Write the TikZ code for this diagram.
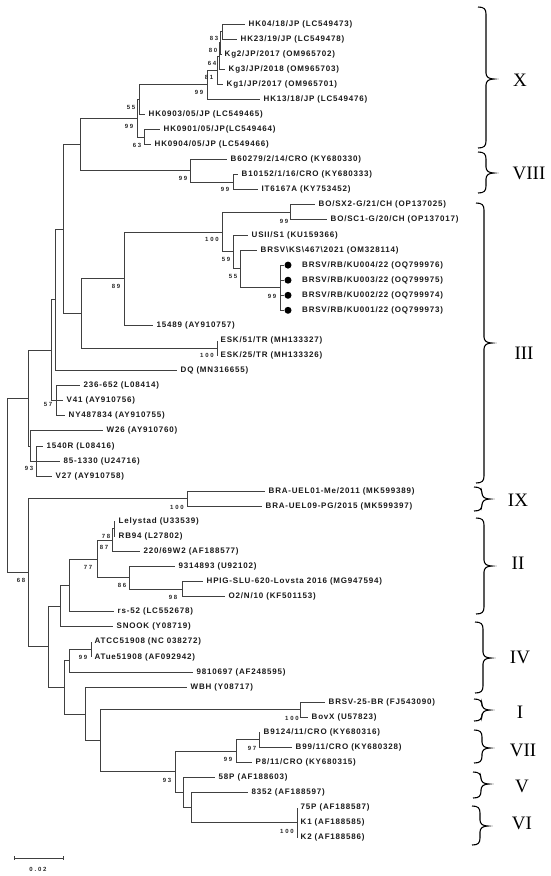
\documentclass[tikz,border=0pt]{standalone}
\usepackage{fontspec}
\newfontfamily\labfont{Liberation Sans}[LetterSpace=10]
\newfontfamily\bootfam{Liberation Sans}[LetterSpace=30]
\newfontfamily\cladefont{Liberation Serif}
\newcommand{\cladebrace}[4]{%
  \draw[bracestyle] (#1-8,#2) .. controls (#1-2,#2) and (#1,#2+2) .. (#1,#2+7)
    -- (#1,#3-6) .. controls (#1,#3-2) and (#1+3,#3) .. (#1+8,#3)
    .. controls (#1+3,#3) and (#1,#3+2) .. (#1,#3+6)
    -- (#1,#4-7) .. controls (#1,#4-2) and (#1-2,#4) .. (#1-8,#4);}
\begin{document}
\begin{tikzpicture}[x=1pt,y=-1pt,
  br/.style={draw=black!75, line width=0.9pt},
  leaf/.style={anchor=west, inner xsep=3.5pt, inner ysep=0.5pt, text=black!90,
    font=\labfont\bfseries\fontsize{8}{9}\selectfont},
  boot/.style={inner sep=0pt, text=black!85, font=\bootfam\bfseries\fontsize{6}{7}\selectfont},
  dotmark/.style={circle, fill=black, inner sep=0pt, minimum size=7pt},
  bracestyle/.style={draw=black, line width=1.1pt},
  clade/.style={inner sep=0pt, font=\cladefont\fontsize{19}{21}\selectfont}]
\useasboundingbox (0,0) rectangle (550,876);
% ---------- leaves ----------
\node[leaf] (L1) at (245,24.0) {HK04/18/JP (LC549473)};
\node[leaf] (L2) at (237,39.1) {HK23/19/JP (LC549478)};
\node[leaf] (L3) at (221,54.1) {Kg2/JP/2017 (OM965702)};
\node[leaf] (L4) at (225,69.2) {Kg3/JP/2018 (OM965703)};
\node[leaf] (L5) at (223,84.3) {Kg1/JP/2017 (OM965701)};
\node[leaf] (L6) at (260,99.4) {HK13/18/JP (LC549476)};
\node[leaf] (L7) at (145,114.4) {HK0903/05/JP (LC549465)};
\node[leaf] (L8) at (160,129.5) {HK0901/05/JP(LC549464)};
\node[leaf] (L9) at (151,144.6) {HK0904/05/JP (LC549466)};
\node[leaf] (L10) at (227,159.6) {B60279/2/14/CRO (KY680330)};
\node[leaf] (L11) at (238,174.7) {B10152/1/16/CRO (KY680333)};
\node[leaf] (L12) at (258,189.8) {IT6167A (KY753452)};
\node[leaf] (L13) at (315,204.9) {BO/SX2-G/21/CH (OP137025)};
\node[leaf] (L14) at (327,219.9) {BO/SC1-G/20/CH (OP137017)};
\node[leaf] (L15) at (248,235.0) {USII/S1 (KU159366)};
\node[leaf] (L16) at (257,250.0) {BRSV\textbackslash KS\textbackslash 467\textbackslash 2021 (OM328114)};
\node[dotmark] (D17) at (288,265.1) {};
\node[dotmark] (D18) at (288,280.2) {};
\node[dotmark] (D19) at (288,295.3) {};
\node[dotmark] (D20) at (288,310.3) {};
\node[leaf] (L17) at (298.5,265.1) {BRSV/RB/KU004/22 (OQ799976)};
\node[leaf] (L18) at (298.5,280.2) {BRSV/RB/KU003/22 (OQ799975)};
\node[leaf] (L19) at (298.5,295.3) {BRSV/RB/KU002/22 (OQ799974)};
\node[leaf] (L20) at (298.5,310.3) {BRSV/RB/KU001/22 (OQ799973)};
\node[leaf] (L21) at (153,325.4) {15489 (AY910757)};
\node[leaf] (L22) at (217,340.5) {ESK/51/TR (MH133327)};
\node[leaf] (L23) at (217,355.5) {ESK/25/TR (MH133326)};
\node[leaf] (L24) at (177,370.6) {DQ (MN316655)};
\node[leaf] (L25) at (80,385.7) {236-652 (L08414)};
\node[leaf] (L26) at (63,400.8) {V41 (AY910756)};
\node[leaf] (L27) at (65,415.8) {NY487834 (AY910755)};
\node[leaf] (L28) at (103,430.9) {W26 (AY910760)};
\node[leaf] (L29) at (43,446.0) {1540R (L08416)};
\node[leaf] (L30) at (60,461.0) {85-1330 (U24716)};
\node[leaf] (L31) at (52,476.1) {V27 (AY910758)};
\node[leaf] (L32) at (265,491.2) {BRA-UEL01-Me/2011 (MK599389)};
\node[leaf] (L33) at (262,506.3) {BRA-UEL09-PG/2015 (MK599397)};
\node[leaf] (L34) at (115,521.3) {Lelystad (U33539)};
\node[leaf] (L35) at (115,536.4) {RB94 (L27802)};
\node[leaf] (L36) at (140,551.5) {220/69W2 (AF188577)};
\node[leaf] (L37) at (175,566.6) {9314893 (U92102)};
\node[leaf] (L38) at (203,581.6) {HPIG-SLU-620-Lovsta 2016 (MG947594)};
\node[leaf] (L39) at (225,596.7) {O2/N/10 (KF501153)};
\node[leaf] (L40) at (114,611.8) {rs-52 (LC552678)};
\node[leaf] (L41) at (113,626.8) {SNOOK (Y08719)};
\node[leaf] (L42) at (91,641.9) {ATCC51908 (NC 038272)};
\node[leaf] (L43) at (91,657.0) {ATue51908 (AF092942)};
\node[leaf] (L44) at (193,672.0) {9810697 (AF248595)};
\node[leaf] (L45) at (187,687.1) {WBH (Y08717)};
\node[leaf] (L46) at (325,702.2) {BRSV-25-BR (FJ543090)};
\node[leaf] (L47) at (308,717.3) {BovX (U57823)};
\node[leaf] (L48) at (260,732.3) {B9124/11/CRO (KY680316)};
\node[leaf] (L49) at (292,747.4) {B99/11/CRO (KY680328)};
\node[leaf] (L50) at (252,762.5) {P8/11/CRO (KY680315)};
\node[leaf] (L51) at (215,777.5) {58P (AF188603)};
\node[leaf] (L52) at (248,792.6) {8352 (AF188597)};
\node[leaf] (L53) at (297,807.7) {75P (AF188587)};
\node[leaf] (L54) at (297,822.8) {K1 (AF188585)};
\node[leaf] (L55) at (297,837.8) {K2 (AF188586)};
% ---------- internal nodes ----------
\coordinate (a83) at (222,31.55);
\coordinate (a80) at (220.5,42.8);
\coordinate (a64) at (219,56.0);
\coordinate (a81) at (217,70.15);
\coordinate (a99x) at (207,84.8);
\coordinate (a55x) at (139,99.6);
\coordinate (a63) at (144,137.05);
\coordinate (a99y) at (137,118.3);
\coordinate (aVIIIin) at (233,182.25);
\coordinate (aVIII) at (190,170.9);
\coordinate (aXVIII) at (80,144.6);
\coordinate (aBO) at (290,212.4);
\coordinate (aRB) at (280,287.7);
\coordinate (a55b) at (240,268.85);
\coordinate (a59) at (233,251.9);
\coordinate (a100) at (222,232.15);
\coordinate (a89) at (124,278.8);
\coordinate (aESK) at (217,348.0);
\coordinate (a81b) at (81,313.4);
\coordinate (a63b) at (63,229.0);
\coordinate (a55c) at (55,299.8);
\coordinate (a57) at (56,400.75);
\coordinate (a51) at (51,350.3);
\coordinate (a93) at (36,461.05);
\coordinate (aW) at (30,446.0);
\coordinate (a28) at (28,398.15);
\coordinate (aBRA) at (187,498.75);
\coordinate (a78) at (114,528.85);
\coordinate (a87) at (112,540.2);
\coordinate (a98) at (182,589.15);
\coordinate (a86) at (129,577.9);
\coordinate (a77) at (97,559.05);
\coordinate (a69) at (69,585.4);
\coordinate (a60) at (60,606.1);
\coordinate (a99atcc) at (91,649.45);
\coordinate (a69b) at (69,660.7);
\coordinate (aBovX) at (300,709.75);
\coordinate (a97) at (259,739.85);
\coordinate (a99c) at (236,751.2);
\coordinate (aK) at (297,822.75);
\coordinate (a191) at (191,807.7);
\coordinate (a183) at (183,792.6);
\coordinate (a93b) at (175,771.9);
\coordinate (a100c) at (100,740.8);
\coordinate (a85) at (85,713.95);
\coordinate (a64b) at (64,687.3);
\coordinate (a48) at (48,646.7);
\coordinate (a68) at (28,572.7);
\coordinate (root) at (7,485.4);
% ---------- branches ----------
\draw[br] (a83) |- (L1.west) (a83) |- (L2.west);
\draw[br] (a80) |- (a83) (a80) |- (L3.west);
\draw[br] (a64) |- (a80) (a64) |- (L4.west);
\draw[br] (a81) |- (a64) (a81) |- (L5.west);
\draw[br] (a99x) |- (a81) (a99x) |- (L6.west);
\draw[br] (a55x) |- (a99x) (a55x) |- (L7.west);
\draw[br] (a63) |- (L8.west) (a63) |- (L9.west);
\draw[br] (a99y) |- (a55x) (a99y) |- (a63);
\draw[br] (aVIIIin) |- (L11.west) (aVIIIin) |- (L12.west);
\draw[br] (aVIII) |- (L10.west) (aVIII) |- (aVIIIin);
\draw[br] (aXVIII) |- (a99y) (aXVIII) |- (aVIII);
\draw[br] (aBO) |- (L13.west) (aBO) |- (L14.west);
\draw[br] (aRB) |- (D17.west) (aRB) |- (D18.west) (aRB) |- (D19.west) (aRB) |- (D20.west);
\draw[br] (a55b) |- (L16.west) (a55b) |- (aRB);
\draw[br] (a59) |- (L15.west) (a59) |- (a55b);
\draw[br] (a100) |- (aBO) (a100) |- (a59);
\draw[br] (a89) |- (a100) (a89) |- (L21.west);
\draw[br] (aESK) |- (L22.west) (aESK) |- (L23.west);
\draw[br] (a81b) |- (a89) (a81b) |- (aESK);
\draw[br] (a63b) |- (aXVIII) (a63b) |- (a81b);
\draw[br] (a55c) |- (a63b) (a55c) |- (L24.west);
\draw[br] (a57) |- (L25.west) (a57) |- (L26.west) (a57) |- (L27.west);
\draw[br] (a51) |- (a55c) (a51) |- (a57);
\draw[br] (a93) |- (L29.west) (a93) |- (L30.west) (a93) |- (L31.west);
\draw[br] (aW) |- (L28.west) (aW) |- (a93);
\draw[br] (a28) |- (a51) (a28) |- (aW);
\draw[br] (aBRA) |- (L32.west) (aBRA) |- (L33.west);
\draw[br] (a78) |- (L34.west) (a78) |- (L35.west);
\draw[br] (a87) |- (a78) (a87) |- (L36.west);
\draw[br] (a98) |- (L38.west) (a98) |- (L39.west);
\draw[br] (a86) |- (L37.west) (a86) |- (a98);
\draw[br] (a77) |- (a87) (a77) |- (a86);
\draw[br] (a69) |- (a77) (a69) |- (L40.west);
\draw[br] (a60) |- (a69) (a60) |- (L41.west);
\draw[br] (a99atcc) |- (L42.west) (a99atcc) |- (L43.west);
\draw[br] (a69b) |- (a99atcc) (a69b) |- (L44.west);
\draw[br] (aBovX) |- (L46.west) (aBovX) |- (L47.west);
\draw[br] (a97) |- (L48.west) (a97) |- (L49.west);
\draw[br] (a99c) |- (a97) (a99c) |- (L50.west);
\draw[br] (aK) |- (L53.west) (aK) |- (L54.west) (aK) |- (L55.west);
\draw[br] (a191) |- (L52.west) (a191) |- (aK);
\draw[br] (a183) |- (L51.west) (a183) |- (a191);
\draw[br] (a93b) |- (a99c) (a93b) |- (a183);
\draw[br] (a100c) |- (aBovX) (a100c) |- (a93b);
\draw[br] (a85) |- (L45.west) (a85) |- (a100c);
\draw[br] (a64b) |- (a69b) (a64b) |- (a85);
\draw[br] (a48) |- (a60) (a48) |- (a64b);
\draw[br] (a68) |- (aBRA) (a68) |- (a48);
\draw[br] (root) |- (a28) (root) |- (a68);
% ---------- bootstrap values ----------
\node[boot] (b1) at (214,38) {83};
\node[boot] (b2) at (213,50) {80};
\node[boot] (b3) at (212,63) {64};
\node[boot] (b4) at (209,77) {81};
\node[boot] (b5) at (199,92) {99};
\node[boot] (b6) at (131,107) {55};
\node[boot] (b7) at (129,126) {99};
\node[boot] (b8) at (137,145) {63};
\node[boot] (b9) at (183,178) {99};
\node[boot] (b10) at (225,189) {99};
\node[boot] (b11) at (284,221) {99};
\node[boot] (b12) at (212,239) {100};
\node[boot] (b13) at (226,259) {59};
\node[boot] (b14) at (233,276) {55};
\node[boot] (b15) at (272,296) {99};
\node[boot] (b16) at (116,286) {89};
\node[boot] (b17) at (207,355) {100};
\node[boot] (b18) at (48,404) {57};
\node[boot] (b19) at (29,468) {93};
\node[boot] (b20) at (177,507) {100};
\node[boot] (b21) at (21,580) {68};
\node[boot] (b22) at (106,536) {78};
\node[boot] (b23) at (104,547) {87};
\node[boot] (b24) at (88,567) {77};
\node[boot] (b25) at (122,585) {86};
\node[boot] (b26) at (173,597) {98};
\node[boot] (b27) at (83,657) {99};
\node[boot] (b28) at (292,718) {100};
\node[boot] (b29) at (252,748) {97};
\node[boot] (b30) at (228,759) {99};
\node[boot] (b31) at (167,780) {93};
\node[boot] (b32) at (287,831) {100};
% ---------- scale bar ----------
\coordinate (s1) at (14,858);
\coordinate (s2) at (63,858);
\draw[br] (s1) -- (s2);
\draw[br] (14,856) -- (14,860) (63,856) -- (63,860);
\node[boot] (sl) at (38,869) {0.02};
% ---------- clade braces ----------
\cladebrace{486}{7}{79}{148}
\cladebrace{486}{152}{173}{193}
\cladebrace{484}{203}{343}{483}
\cladebrace{482}{487}{499}{511}
\cladebrace{484}{518}{566}{614}
\cladebrace{483}{622}{658}{693}
\cladebrace{482}{699}{710}{721}
\cladebrace{482}{730}{748}{763}
\cladebrace{481}{772}{784}{798}
\cladebrace{480}{806}{826}{845}
\node[clade] (cX) at (520,80) {X};
\node[clade] (cVIII) at (529,173) {VIII};
\node[clade] (cIII) at (524,353) {III};
\node[clade] (cIX) at (518,500) {IX};
\node[clade] (cII) at (518,563) {II};
\node[clade] (cIV) at (520,657) {IV};
\node[clade] (cI) at (520,712) {I};
\node[clade] (cVII) at (523,750) {VII};
\node[clade] (cV) at (522,786) {V};
\node[clade] (cVI) at (522,823) {VI};
\end{tikzpicture}
\end{document}
